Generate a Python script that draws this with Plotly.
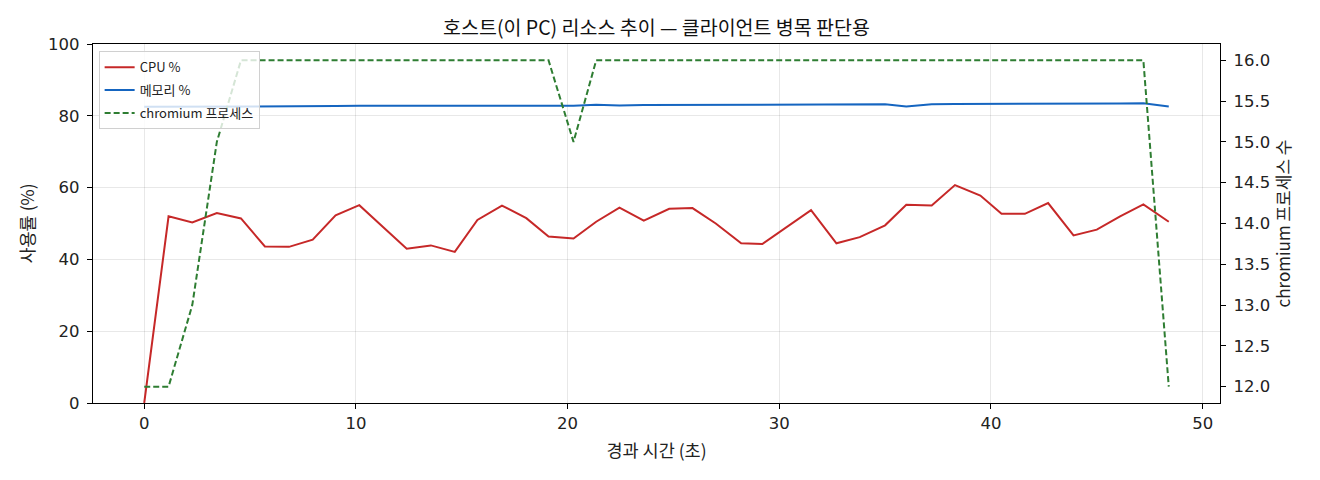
import plotly.graph_objects as go

time_s = [0.0, 1.15, 2.27, 3.43, 4.57, 5.70, 6.84, 7.96, 9.04, 10.16,
          11.28, 12.40, 13.54, 14.67, 15.74, 16.90, 18.05, 19.10, 20.28, 21.35,
          22.45, 23.6, 24.8, 25.9, 27.0, 28.2, 29.2, 30.4, 31.5, 32.7,
          33.8, 35.0, 36.0, 37.2, 38.3, 39.5, 40.5, 41.6, 42.7, 43.9,
          45.0, 46.1, 47.2, 48.4]

cpu_pct = [0.0, 52.0, 50.3, 52.9, 51.4, 43.6, 43.5, 45.5, 52.3, 55.1,
           49.0, 43.0, 43.9, 42.1, 51.0, 55.0, 51.5, 46.4, 45.8, 50.5,
           54.4, 50.8, 54.1, 54.3, 50.0, 44.5, 44.3, 49.1, 53.7, 44.5,
           46.2, 49.5, 55.2, 55.0, 60.7, 57.8, 52.7, 52.7, 55.7, 46.7,
           48.3, 52.0, 55.3, 50.5]

mem_pct = [82.5, 82.5, 82.5, 82.6, 82.6, 82.6, 82.6, 82.7, 82.7, 82.8,
           82.8, 82.8, 82.7, 82.8, 82.8, 82.7, 82.9, 82.8, 82.8, 83.1,
           82.9, 83.0, 83.0, 83.1, 83.0, 83.0, 83.1, 83.2, 83.1, 83.0,
           83.1, 83.2, 82.6, 83.2, 83.3, 83.3, 83.4, 83.3, 83.2, 83.3,
           83.3, 83.4, 83.5, 82.6]

chromium_procs = [12, 12, 13, 15, 16, 16, 16, 16, 16, 16,
                  16, 16, 16, 16, 16, 16, 16, 16, 15, 16,
                  16, 16, 16, 16, 16, 16, 16, 16, 16, 16,
                  16, 16, 16, 16, 16, 16, 16, 16, 16, 16,
                  16, 16, 16, 12]

x_ticks = [0, 10, 20, 30, 40, 50]
y_ticks = [0, 20, 40, 60, 80, 100]
y2_ticks = [12.0, 12.5, 13.0, 13.5, 14.0, 14.5, 15.0, 15.5, 16.0]

FONT = "Noto Sans CJK KR"
TICK_FONT = "DejaVu Sans"

fig = go.Figure()
fig.add_trace(go.Scatter(x=time_s, y=cpu_pct, mode="lines", name="CPU %",
                         legendgroup="a",
                         line=dict(color="#c62828", width=2), yaxis="y"))
fig.add_trace(go.Scatter(x=time_s, y=mem_pct, mode="lines", name="메모리 %",
                         legendgroup="b",
                         line=dict(color="#1565c0", width=2), yaxis="y"))
fig.add_trace(go.Scatter(x=time_s, y=chromium_procs, mode="lines", name="chromium 프로세스",
                         legendgroup="c",
                         line=dict(color="#2e7d32", width=2, dash="6px,3px"), yaxis="y2"))

axis_common = dict(showline=True, linecolor="black", linewidth=1.2,
                   ticks="outside", ticklen=5, tickcolor="black",
                   tickfont=dict(family=TICK_FONT, size=16.5, color="#222"), zeroline=False)

fig.update_layout(
    width=1320, height=480,
    margin=dict(l=85, r=108, t=36, b=85),
    paper_bgcolor="white", plot_bgcolor="white",
    font=dict(family=FONT, color="#222"),
    title=dict(text="호스트(이 PC) 리소스 추이 — 클라이언트 병목 판단용",
               x=0.5, xref="paper", xanchor="center", y=0.958, yanchor="middle",
               font=dict(family=FONT, size=19.5, color="#111")),
    xaxis=dict(range=[-2.42, 50.82], tickvals=x_ticks, mirror=True,
               showgrid=True, gridcolor="rgba(0,0,0,0.09)", gridwidth=1,
               title=dict(text="경과 시간 (초)", font=dict(family=FONT, size=17.5), standoff=12),
               **axis_common),
    yaxis=dict(range=[0, 100], tickvals=y_ticks, mirror=False, ticklabelstandoff=4,
               showgrid=True, gridcolor="rgba(0,0,0,0.09)", gridwidth=1,
               title=dict(text="사용률 (%)", font=dict(family=FONT, size=17.5), standoff=8),
               **axis_common),
    yaxis2=dict(range=[11.8, 16.2], tickvals=y2_ticks, tickformat=".1f",
                overlaying="y", side="right", showgrid=False, ticklabelstandoff=4,
                title=dict(text="chromium 프로세스 수", font=dict(family=FONT, size=17), standoff=7),
                **axis_common),
    legend=dict(x=0.005, y=0.98, xanchor="left", yanchor="top",
                bgcolor="rgba(255,255,255,0.8)", bordercolor="#d0d0d0", borderwidth=1,
                font=dict(family=FONT, size=13, color="#222"),
                itemwidth=30, tracegroupgap=3),
    showlegend=True,
)

fig.write_html("out.html")
